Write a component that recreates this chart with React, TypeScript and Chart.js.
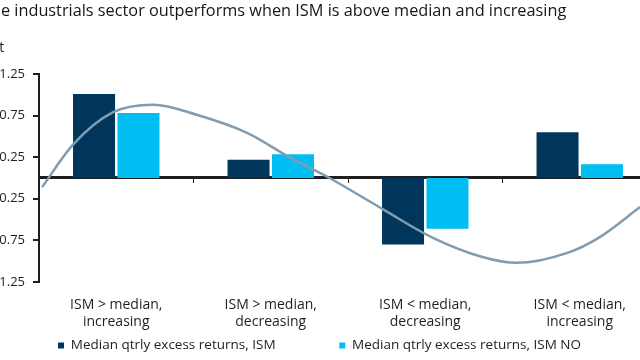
import React, { useEffect, useRef } from "react";
import { Chart, registerables } from "chart.js";

Chart.register(...registerables);

const TITLE = "The industrials sector outperforms when ISM is above median and increasing";
const UNIT = "ppt";
const CATEGORIES = [
  ["ISM > median,", "increasing"],
  ["ISM > median,", "decreasing"],
  ["ISM < median,", "decreasing"],
  ["ISM < median,", "increasing"],
];
const SERIES_NAMES = ["Median qtrly excess returns, ISM", "Median qtrly excess returns, ISM NO"];
const ISM = [1.01, 0.22, -0.8, 0.55];
const ISM_NO = [0.78, 0.285, -0.61, 0.165];
const Y_TICKS = [-1.25, -0.75, -0.25, 0.25, 0.75, 1.25];
// decorative ISM cycle curve; x in category-index units (-0.5 = left edge of plot, 3.5 = right edge)
const CYCLE_X = [-0.48, -0.28, -0.02, 0.24, 0.52, 0.85, 1.12, 1.38, 1.73, 2.05, 2.37, 2.59, 2.92, 3.13, 3.39];
const CYCLE_Y = [-0.11, 0.4, 0.79, 0.88, 0.76, 0.54, 0.25, 0.0, -0.38, -0.72, -0.95, -1.02, -0.9, -0.71, -0.35];

const NAVY = "#00365C";
const CYAN = "#00BDF2";
const CURVE = "#7F9CB1";
const INK = "#1f1f1f";
const FONT = "'Open Sans'";

export default function App() {
  const ref = useRef<HTMLCanvasElement | null>(null);

  useEffect(() => {
    let chart: Chart | null = null;
    let cancelled = false;
    const build = () => {
      if (cancelled || !ref.current) return;
      chart = new Chart(ref.current, {
        type: "bar",
        data: {
          labels: CATEGORIES as any,
          datasets: [
            {
              label: SERIES_NAMES[0],
              data: ISM,
              backgroundColor: NAVY,
              borderWidth: 0,
              barPercentage: 0.946,
              categoryPercentage: 0.575,
              order: 1,
            },
            {
              label: SERIES_NAMES[1],
              data: ISM_NO,
              backgroundColor: CYAN,
              borderWidth: 0,
              barPercentage: 0.946,
              categoryPercentage: 0.575,
              order: 1,
            },
            {
              type: "line" as any,
              label: "ISM cycle",
              parsing: false,
              data: CYCLE_X.map((x, i) => ({ x, y: CYCLE_Y[i] })) as any,
              borderColor: CURVE,
              borderWidth: 2.5,
              pointRadius: 0,
              cubicInterpolationMode: "monotone",
              fill: false,
              order: 0,
            } as any,
          ],
        },
        options: {
          responsive: false,
          animation: false,
          devicePixelRatio: 1,
          events: [],
          layout: { padding: { left: 0, right: 16, top: 0, bottom: -2.25 } },
          scales: {
            x: {
              type: "category",
              position: "bottom",
              offset: true,
              grid: { display: false, drawTicks: false },
              border: { display: false },
              afterFit: (scale: any) => {
                scale.height = 53.75;
              },
              ticks: {
                color: INK,
                padding: 15,
                maxRotation: 0,
                autoSkip: false,
                font: { family: FONT, size: 14, lineHeight: 1.2 },
              },
            },
            x0: {
              type: "category",
              axis: "x",
              position: { y: 0 } as any,
              offset: true,
              grid: {
                display: true,
                offset: true,
                drawOnChartArea: false,
                drawTicks: true,
                tickLength: 4,
                color: INK,
                lineWidth: 1,
              },
              border: { display: true, color: INK, width: 3 },
              ticks: { display: false },
            } as any,
            y: {
              type: "linear",
              min: -1.25,
              max: 1.25,
              afterBuildTicks: (scale: any) => {
                scale.ticks = Y_TICKS.map((v) => ({ value: v }));
              },
              afterFit: (scale: any) => {
                scale.width = 57;
              },
              grid: {
                display: true,
                drawOnChartArea: false,
                drawTicks: true,
                tickLength: 6,
                color: INK,
                lineWidth: 2,
              },
              border: { display: true, color: INK, width: 2 },
              ticks: {
                color: INK,
                padding: 8,
                font: { family: FONT, size: 13 },
                callback: (v: any) => Number(v).toFixed(2),
              },
            },
          },
          plugins: {
            title: {
              display: true,
              text: TITLE,
              align: "start",
              color: "#161616",
              font: { family: FONT, size: 16.3, weight: "normal" as any, lineHeight: 1.2 },
              padding: { top: 1.6, bottom: 18.6 },
            },
            subtitle: {
              display: true,
              text: UNIT,
              align: "start",
              color: INK,
              font: { family: FONT, size: 14, lineHeight: 1.2 },
              padding: { top: 0, bottom: 17.4 },
            },
            legend: {
              display: true,
              position: "bottom",
              align: "center",
              labels: {
                boxWidth: 6,
                boxHeight: 6,
                padding: 3,
                color: INK,
                font: { family: FONT, size: 13.5 },
                filter: (item: any) => item.datasetIndex !== 2,
                generateLabels: (c: any) => {
                  const items = Chart.defaults.plugins.legend.labels.generateLabels(c);
                  return items.map((it: any) =>
                    it.datasetIndex === 0
                      ? { ...it, text: it.text + "\u2003\u2003\u2003\u2003\u2002" }
                      : it
                  );
                },
              },
            },
            tooltip: { enabled: false },
          },
        },
      });
    };
    const fonts: any = (document as any).fonts;
    if (fonts && fonts.load) {
      Promise.all([
        fonts.load(`13px ${FONT}`),
        fonts.load(`14px ${FONT}`),
        fonts.load(`16px ${FONT}`),
      ]).then(build, build);
    } else {
      build();
    }
    return () => {
      cancelled = true;
      if (chart) chart.destroy();
    };
  }, []);

  return (
    <div
      style={{
        position: "fixed",
        left: 0,
        top: 0,
        width: 640,
        height: 360,
        overflow: "hidden",
        background: "#ffffff",
      }}
    >
      <canvas
        ref={ref}
        width={691}
        height={360}
        style={{ position: "absolute", left: -18, top: 0, width: 691, height: 360 }}
      />
    </div>
  );
}
